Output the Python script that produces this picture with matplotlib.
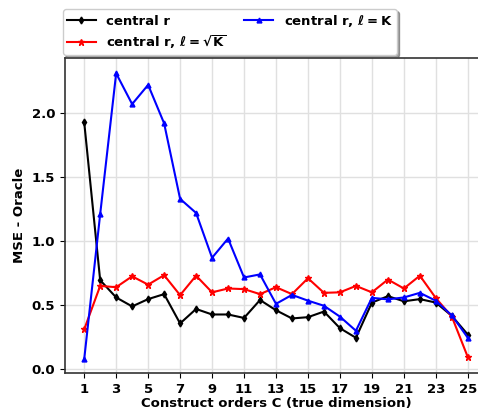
import matplotlib
matplotlib.use("Agg")
import matplotlib.pyplot as plt
import numpy as np

plt.rcParams['font.family'] = 'DejaVu Sans'
plt.rcParams['font.weight'] = 'bold'
plt.rcParams['mathtext.fontset'] = 'dejavusans'
plt.rcParams['mathtext.default'] = 'bf'

# construct orders C
orders = np.arange(1, 26)

# MSE - Oracle for each estimator
mse_central = [1.93, 0.695, 0.56, 0.49, 0.547, 0.586, 0.357, 0.47, 0.427, 0.427,
               0.40, 0.54, 0.46, 0.396, 0.406, 0.45, 0.32, 0.245, 0.52, 0.57,
               0.53, 0.547, 0.52, 0.416, 0.27]
mse_sqrtK = [0.31, 0.65, 0.64, 0.725, 0.66, 0.734, 0.578, 0.73, 0.60, 0.63,
             0.625, 0.586, 0.64, 0.586, 0.71, 0.596, 0.60, 0.65, 0.60, 0.70,
             0.63, 0.73, 0.555, 0.41, 0.094]
mse_K = [0.076, 1.21, 2.31, 2.07, 2.22, 1.92, 1.33, 1.22, 0.87, 1.02,
         0.716, 0.74, 0.51, 0.58, 0.535, 0.495, 0.41, 0.30, 0.557, 0.545,
         0.56, 0.596, 0.534, 0.42, 0.245]

fig = plt.figure(figsize=(4.78, 4.12), dpi=100)
# axes run a bit past the right edge of the figure
ax = fig.add_axes([65/478, 39/412, 422/478, 315/412])

ax.plot(orders, mse_central, color='black', marker='d', markersize=3.5, lw=1.5,
        label='central r')
ax.plot(orders, mse_sqrtK, color='red', marker='*', markersize=4.5, lw=1.5,
        label=r'central r, $\ell=\sqrt{K}$')
ax.plot(orders, mse_K, color='blue', marker='^', markersize=3.5, lw=1.5,
        label=r'central r, $\ell=K$')

ax.set_xlim(-0.2, 26.2)
ax.set_ylim(-0.03, 2.43)
ax.set_xticks(np.arange(1, 26, 2))
ax.set_yticks([0.0, 0.5, 1.0, 1.5, 2.0])
ax.tick_params(labelsize=9.5)
ax.grid(True, color='#e0e0e0', lw=1)
ax.set_axisbelow(True)
for s in ax.spines.values():
    s.set_color('#333333')
    s.set_linewidth(1.2)

ax.set_xlabel('Construct orders C (true dimension)', fontsize=9.5, fontweight='bold', labelpad=1)
ax.set_ylabel('MSE - Oracle', fontsize=9.5, fontweight='bold')

leg = ax.legend(ncol=2, loc='lower left', bbox_to_anchor=(-0.005, 1.01),
                fontsize=9.5, fancybox=True, shadow=True, frameon=True,
                borderaxespad=0, columnspacing=1.3, handlelength=2.2,
                handletextpad=0.8, labelspacing=0.4, borderpad=0.3)
for t in leg.get_texts():
    t.set_fontweight('bold')

fig.savefig('out.png', dpi=100)
